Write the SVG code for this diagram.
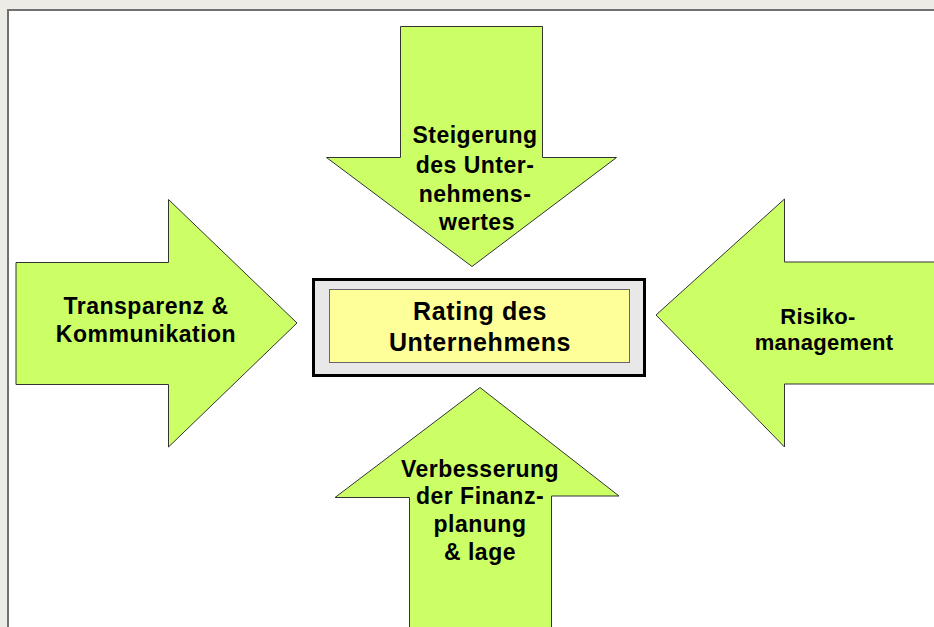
<svg xmlns="http://www.w3.org/2000/svg" width="934" height="627" viewBox="0 0 934 627">
<style>
.arrow{fill:#ccff66;stroke:#333333;stroke-width:1;stroke-linejoin:miter}
.t{font-family:"Liberation Sans",Arial,sans-serif;font-weight:bold;fill:#000000;text-anchor:middle}
.s23{font-size:23px;letter-spacing:0.5px}
.s22{font-size:22px;letter-spacing:0.3px}
.s25{font-size:25px;letter-spacing:0.6px}
</style>
<rect x="0" y="0" width="934" height="627" fill="#ecebe6"/>
<rect x="8" y="10" width="1000" height="1000" fill="#ffffff" stroke="#707070" stroke-width="2"/>
<g id="connectors"/>
<g id="node-top">
<polygon class="arrow" points="400.5,26.5 542.5,26.5 542.5,157.5 616.5,157.5 472,266.5 326.5,157.5 400.5,157.5"/>
<text class="t s23" x="475" y="142.5">Steigerung</text>
<text class="t s23" x="475" y="172.5">des Unter-</text>
<text class="t s23" x="475" y="201.5">nehmens-</text>
<text class="t s23" x="477" y="229.5">wertes</text>
</g>
<g id="node-left">
<polygon class="arrow" points="16,262.5 168.5,262.5 168.5,199.5 297,323 168.5,447 168.5,384.5 16,384.5"/>
<text class="t s23" x="146" y="313.5">Transparenz &amp;</text>
<text class="t s23" x="146" y="341.5">Kommunikation</text>
</g>
<g id="node-right">
<polygon class="arrow" points="656,315 784.5,199 784.5,262 940,262 940,384 784.5,384 784.5,447"/>
<text class="t s22" x="818" y="323.5">Risiko-</text>
<text class="t s22" x="824" y="350">management</text>
</g>
<g id="node-bottom">
<polygon class="arrow" points="480,387.5 619,496 551.5,496 551.5,640 409.5,640 409.5,497.5 335,497.5"/>
<text class="t s23" x="480" y="476.5">Verbesserung</text>
<text class="t s23" x="480" y="504">der Finanz-</text>
<text class="t s23" x="480" y="531.5">planung</text>
<text class="t s23" x="480" y="560">&amp; lage</text>
</g>
<g id="node-center">
<rect x="313.5" y="279.5" width="331" height="96" fill="#e8e8e8" stroke="#000000" stroke-width="3"/>
<rect x="329.5" y="289.5" width="300" height="73" fill="#ffff99" stroke="#666666" stroke-width="1"/>
<text class="t s25" x="480" y="320">Rating des</text>
<text class="t s25" x="480" y="350.5">Unternehmens</text>
</g>
</svg>
